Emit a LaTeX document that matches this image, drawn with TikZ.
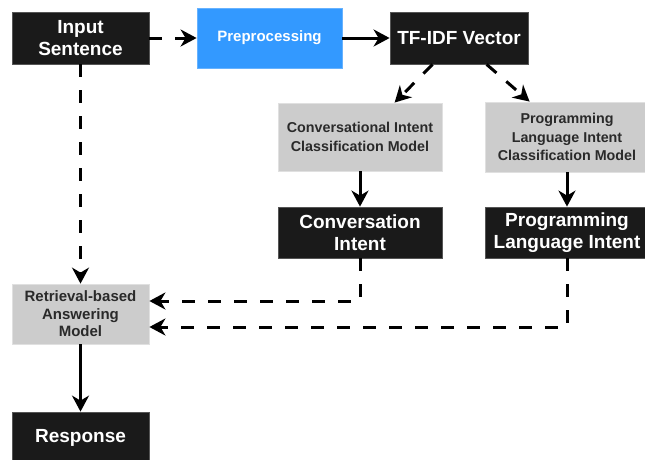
\documentclass[tikz,border=0pt]{standalone}
\usepackage{fontspec}
\setmainfont{Liberation Sans}
\usetikzlibrary{arrows.meta}
\definecolor{boxdark}{HTML}{1A1A1A}
\definecolor{boxdarkedge}{HTML}{555555}
\definecolor{boxblue}{HTML}{3399FF}
\definecolor{boxblueedge}{HTML}{66B2FF}
\definecolor{boxgray}{HTML}{CCCCCC}
\definecolor{boxgrayedge}{HTML}{E0E0E0}
\definecolor{graytext}{HTML}{2A2A2A}
\begin{document}
\begin{tikzpicture}[x=1pt,y=-1pt,
  base/.style={rectangle, inner sep=0pt, align=center},
  darkbox/.style={base, fill=boxdark, draw=boxdarkedge, line width=0.8pt, text=white,
    font=\fontsize{19}{22}\selectfont\bfseries},
  bluebox/.style={base, fill=boxblue, draw=boxblueedge, line width=0.8pt, text=white,
    font=\fontsize{15}{18}\selectfont\bfseries},
  graybox/.style={base, fill=boxgray, draw=boxgrayedge, line width=0.8pt, text=graytext,
    font=\fontsize{14.3}{18.5}\selectfont\bfseries},
  link/.style={line width=3pt, -{Stealth[length=16pt,width=17pt,inset=5pt]}},
  dashlink/.style={link, dash pattern=on 13pt off 13pt}
]
\useasboundingbox (0,0) rectangle (645,459);
\clip (0,0) rectangle (645,459);

% boxes
\node[darkbox, minimum width=137pt, minimum height=52pt] (inp) at (80.5,38) {Input\\Sentence};
\node[bluebox, minimum width=145pt, minimum height=60pt] (pre) at (269.5,38) {Preprocessing};
\node[darkbox, minimum width=138pt, minimum height=52pt] (tfidf) at (459,38) {TF-IDF Vector};
\node[graybox, minimum width=164pt, minimum height=68pt] (cim) at (360,137) {Conversational Intent\\Classification Model};
\node[graybox, minimum width=164pt, minimum height=70pt] (plm) at (567,137) {Programming\\Language Intent\\Classification Model};
\node[darkbox, minimum width=164pt, minimum height=51pt] (ci) at (360,232.5) {Conversation\\Intent};
\node[darkbox, minimum width=164pt, minimum height=51pt] (pli) at (567,232.5) {Programming\\Language Intent};
\node[graybox, minimum width=137pt, minimum height=60pt,
  font=\fontsize{15}{17.5}\selectfont\bfseries] (ret) at (80.5,314) {Retrieval-based\\Answering\\Model};
\node[darkbox, minimum width=137pt, minimum height=52pt] (resp) at (80.5,438) {Response};

% connectors
\draw[dashlink] (inp.east) -- (pre.west);
\draw[link] (pre.east) -- (tfidf.west);
\draw[dashlink] ([xshift=43pt]tfidf.south west) -- ([xshift=117pt]cim.north west);
\draw[dashlink] ([xshift=97pt]tfidf.south west) -- ([xshift=45pt]plm.north west);
\draw[link] (cim.south) -- (ci.north);
\draw[link] (plm.south) -- (pli.north);
\draw[dashlink] (inp.south) -- (ret.north);
\draw[dashlink] (ci.south) |- ([yshift=13pt]ret.east);
\draw[dashlink] (pli.south) |- ([yshift=-13pt]ret.east);
\draw[link] (ret.south) -- (resp.north);
\end{tikzpicture}
\end{document}
